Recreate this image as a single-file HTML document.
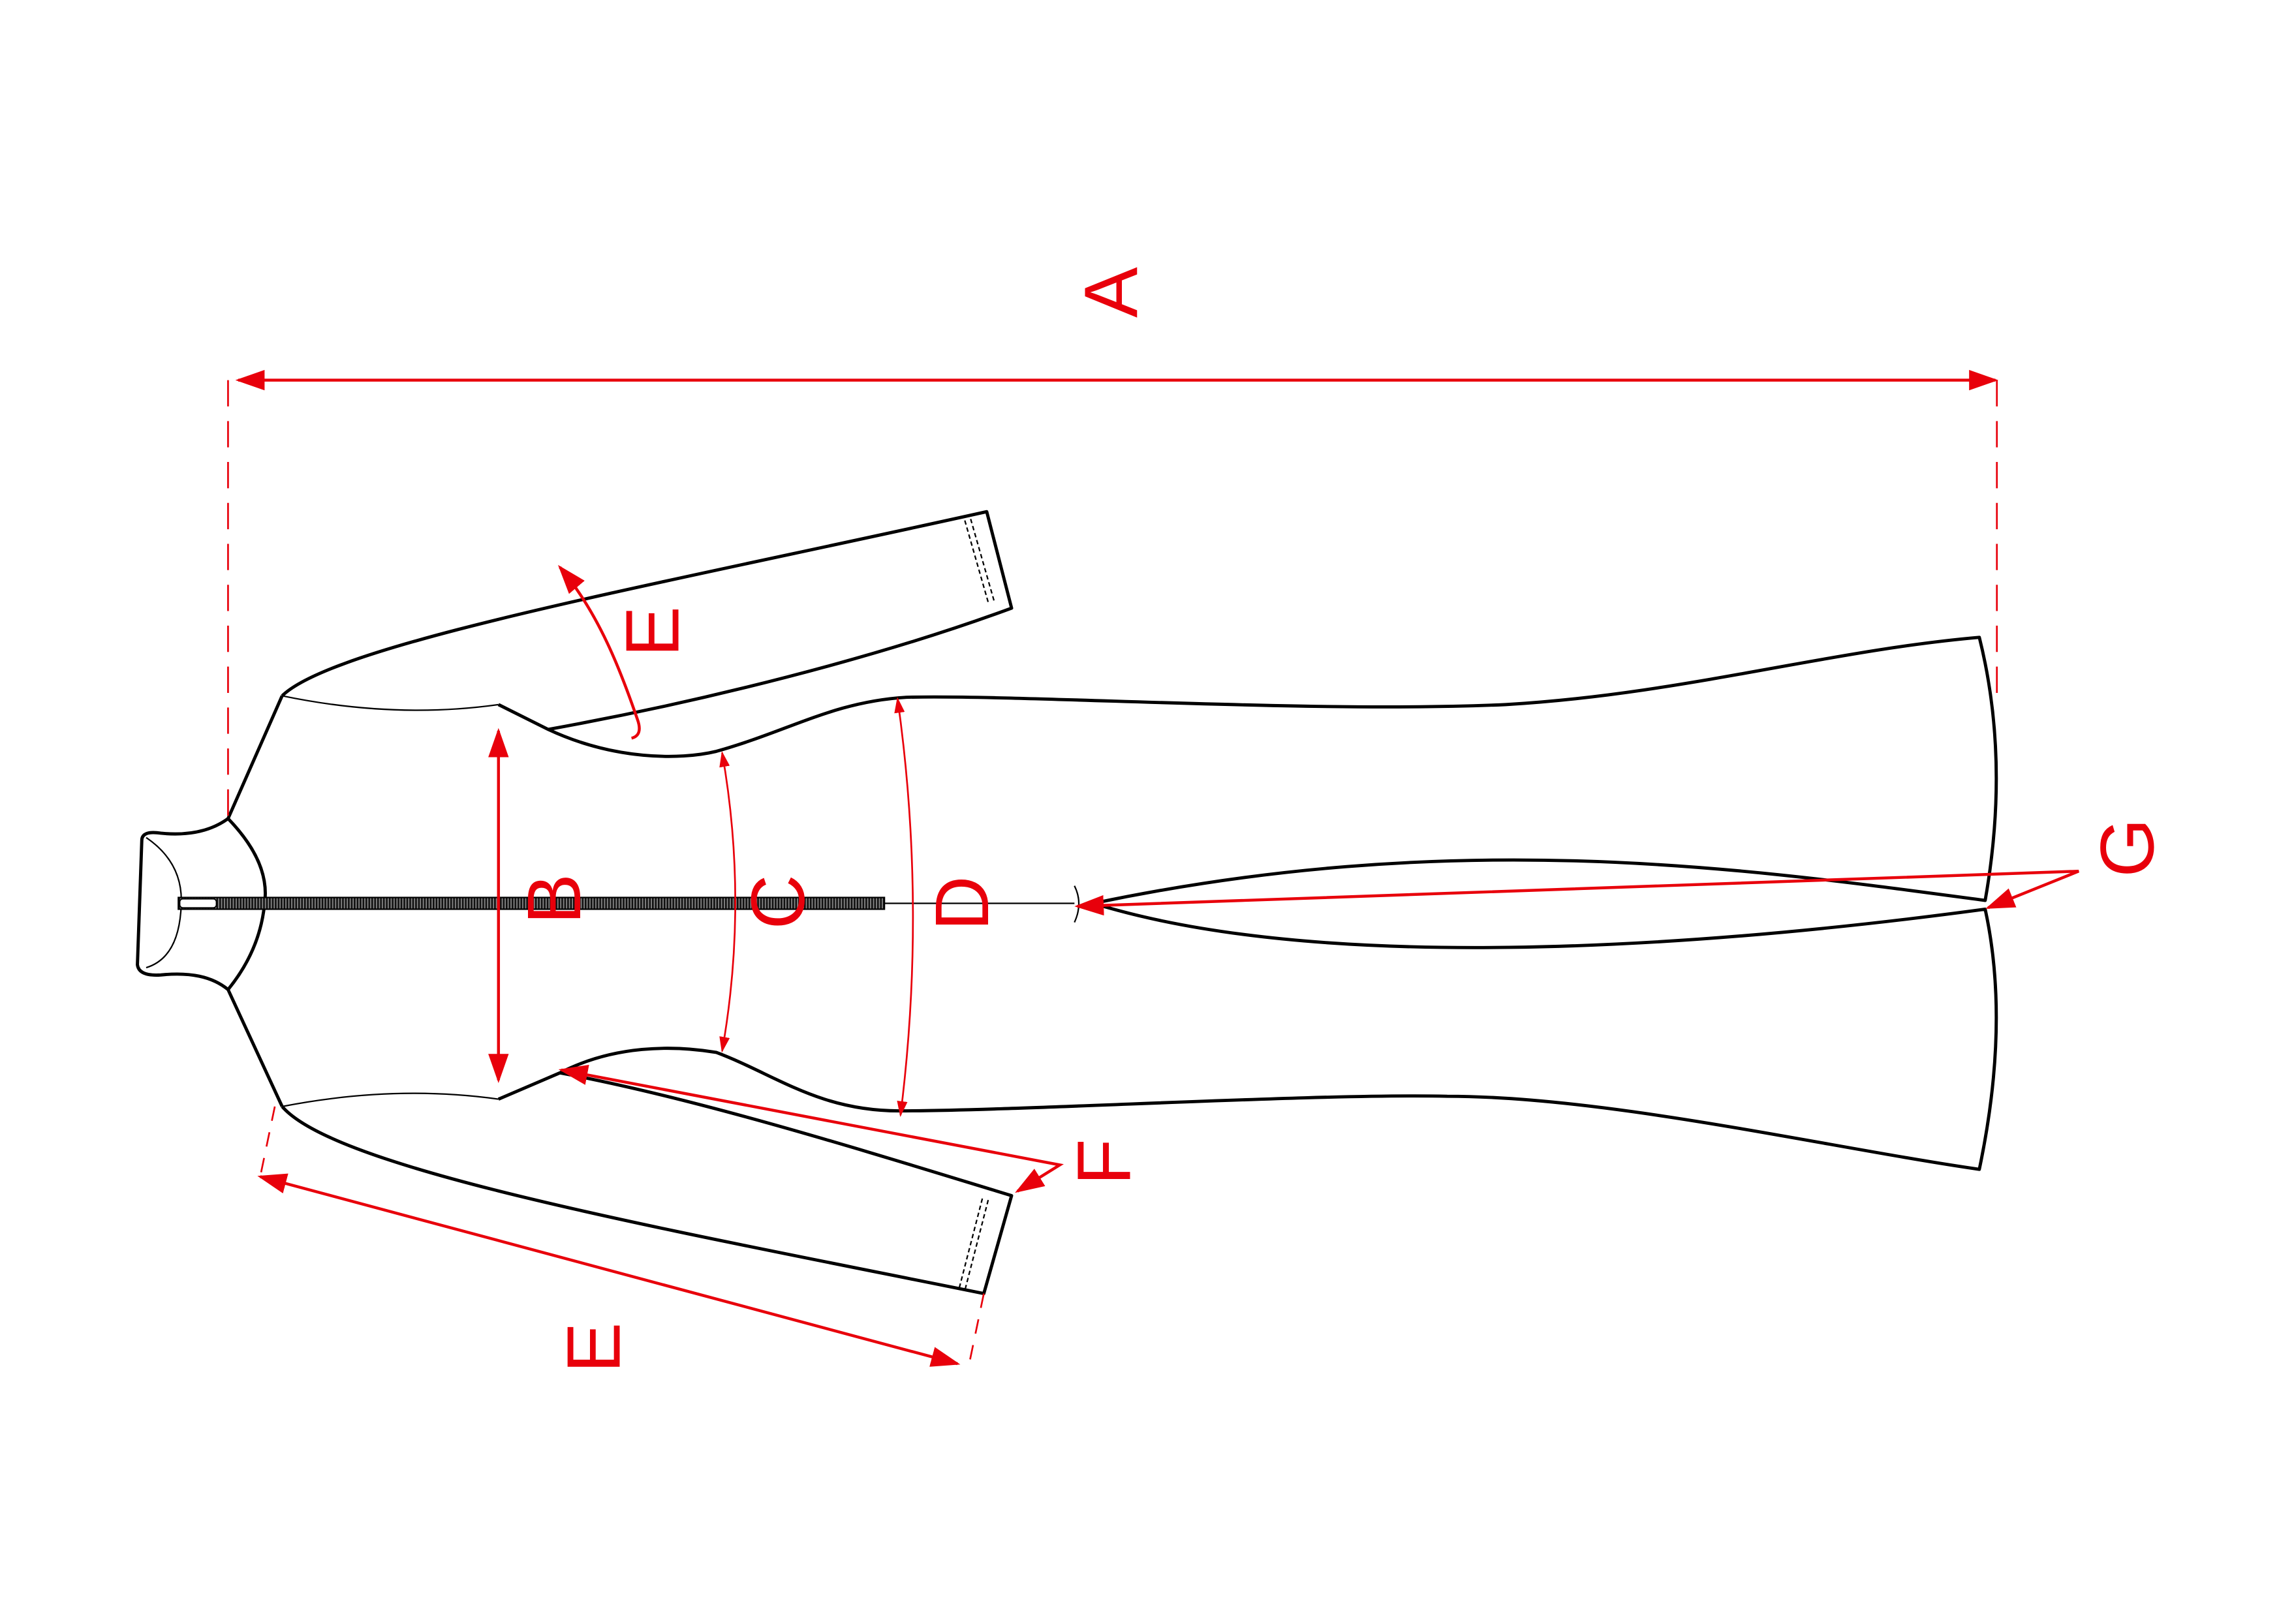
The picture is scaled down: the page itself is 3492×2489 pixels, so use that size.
<!DOCTYPE html>
<html><head><meta charset="utf-8"><style>
html,body{margin:0;padding:0;background:#fff}
svg{display:block}
text{font-family:"Liberation Sans",sans-serif;fill:#e8000b}
</style></head><body>
<svg width="3492" height="2489" viewBox="0 0 1559 1111" xmlns="http://www.w3.org/2000/svg">
<defs>
<marker id="ah" markerWidth="10" markerHeight="7" refX="9" refY="3.5" orient="auto-start-reverse" markerUnits="strokeWidth">
<path d="M0,0 L10,3.5 L0,7 z" fill="#e8000b"/></marker>
<marker id="as" markerWidth="9" markerHeight="6" refX="8" refY="3" orient="auto-start-reverse" markerUnits="strokeWidth">
<path d="M0,0 L9,3 L0,6 z" fill="#e8000b"/></marker>
<pattern id="zp" width="2" height="8" patternUnits="userSpaceOnUse">
<rect width="2" height="8" fill="#888"/><rect width="1.2" height="8" fill="#111"/></pattern>
</defs>
<rect width="1559" height="1111" fill="#fff"/>
<g fill="none" stroke="#000" stroke-width="2.2" stroke-linejoin="round">
<path d="M193,476 C230,440 450,400 675,350 L692,416 C600,450 480,480 375,499"/>
<path d="M341,482 L375,499 C420,520 465,520 490,514 C540,500 570,480 620,477 C700,475 900,488 1030,482 C1150,475 1250,445 1354,436 Q1375,520 1358,616 C1200,595 1000,565 748,618"/>
<path d="M748,618 C900,665 1150,650 1358,622 Q1375,700 1354,800 C1250,785 1100,750 990,750 C900,748 700,760 615,760 C560,760 530,735 490,720 C460,715 420,715 383,734 L341,752"/>
<path d="M193,757 C230,800 450,840 673,885 L692,818 C600,790 480,752 383,734"/>
<path d="M156,560 L193,476 M156,677 L193,757"/>
<path d="M156,560 C145,568 130,572 110,570 Q97,568 97,575 L94,660 Q95,668 110,667 C130,665 145,668 156,677"/>
<path d="M156,560 Q185,590 181,618 Q178,650 156,677"/>
</g>
<g fill="none" stroke="#000" stroke-width="1">
<path d="M193,476 Q270,492 341,482"/>
<path d="M193,757 Q270,742 341,752"/>
<path d="M100,573 Q125,590 124,618 Q123,655 100,662"/>
<path d="M660,356 L676,412 M664,355 L680,411" stroke-dasharray="3,2"/>
<path d="M672,820 L656,882 M676,821 L660,883" stroke-dasharray="3,2"/>
<line x1="605" y1="618" x2="735" y2="618"/>
<path d="M735,606 Q741,618 735,631"/>
</g>
<rect x="122" y="614" width="483" height="8" fill="url(#zp)" stroke="#000" stroke-width="1"/>
<rect x="123" y="615" width="25" height="6" fill="#fff" stroke="#000" stroke-width="0.8" rx="2"/>
<g fill="none" stroke="#e8000b" stroke-width="2">
<path d="M156,260 L156,560 M1366,260 L1366,480" stroke-dasharray="18,10" stroke-width="1.2"/>
<line x1="163" y1="260" x2="1365" y2="260" marker-start="url(#ah)" marker-end="url(#ah)"/>
<line x1="341" y1="500" x2="341" y2="739" marker-start="url(#ah)" marker-end="url(#ah)"/>
<path d="M494,515 Q512,617 494,719" stroke-width="1.2" marker-start="url(#as)" marker-end="url(#as)"/>
<path d="M614,478 Q634,620 616,763" stroke-width="1.2" marker-start="url(#as)" marker-end="url(#as)"/>
<line x1="178" y1="805" x2="655" y2="933" marker-start="url(#ah)" marker-end="url(#ah)"/>
<path d="M188,757 L178,805 M673,885 L663,933" stroke-dasharray="10,8" stroke-width="1.2"/>
<path d="M432,505 Q440,503 436,492 C425,460 410,420 383,388" marker-end="url(#ah)"/>
<polyline points="384,732 725,797 696,815" marker-start="url(#ah)" marker-end="url(#ah)"/>
<polyline points="737,620 1422,596 1360,621" marker-start="url(#ah)" marker-end="url(#ah)"/>
</g>
<g font-size="52">
<text transform="translate(778,200) rotate(-90)" text-anchor="middle">A</text>
<text transform="translate(397,615) rotate(-90)" text-anchor="middle">B</text>
<text transform="translate(550,617) rotate(-90)" text-anchor="middle">C</text>
<text transform="translate(676,618) rotate(-90)" text-anchor="middle">D</text>
<text transform="translate(464,432) rotate(-90)" text-anchor="middle">E</text>
<text transform="translate(424,922) rotate(-90)" text-anchor="middle">E</text>
<text transform="translate(773,795) rotate(-90)" text-anchor="middle">F</text>
<text transform="translate(1473,580) rotate(-90)" text-anchor="middle">G</text>
</g>
</svg>
</body></html>
